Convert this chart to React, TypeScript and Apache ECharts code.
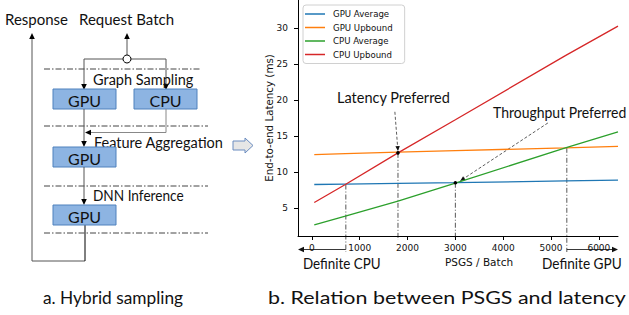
import React, { useEffect, useRef } from "react";
import * as echarts from "echarts";

const seriesNames = ["GPU Average", "GPU Upbound", "CPU Average", "CPU Upbound"];
const psgsPoints = [50, 700, 1800, 3000, 5300, 6400];
const gpuAverage = [8.3, 8.35, 8.45, 8.55, 8.8, 8.9];
const gpuUpbound = [12.45, 12.6, 12.8, 13.0, 13.4, 13.6];
const cpuAverage = [2.7, 3.9, 6.0, 8.5, 13.4, 15.6];
const cpuUpbound = [5.8, 8.3, 12.7, 17.3, 26.2, 30.3];
const xTicks = [0, 1000, 2000, 3000, 4000, 5000, 6000];
const yTicks = [5, 10, 15, 20, 25, 30];
const colors = ["#1f77b4", "#ff7f0e", "#2ca02c", "#d62728"];

// crossover points (PSGS, latency)
const crossX = [710, 1800, 3000, 5330];
const crossY = [8.3, 12.7, 8.55, 13.4];

const CAL = "Lato, 'Open Sans', sans-serif";
const DJ = "'DejaVu Sans', sans-serif";

function arrowHead(x1: number, y1: number, x2: number, y2: number, len = 6, half = 2.8, color = "#000") {
  const dx = x2 - x1, dy = y2 - y1;
  const d = Math.sqrt(dx * dx + dy * dy) || 1;
  const ux = dx / d, uy = dy / d;
  const bx = x2 - ux * len, by = y2 - uy * len;
  return {
    type: "polygon",
    shape: { points: [[x2, y2], [bx - uy * half, by + ux * half], [bx + uy * half, by - ux * half]] },
    style: { fill: color },
    silent: true,
  };
}

function seg(x1: number, y1: number, x2: number, y2: number, stroke = "#666", lineWidth = 1, lineDash?: number[]) {
  return {
    type: "line",
    shape: { x1, y1, x2, y2 },
    style: { stroke, lineWidth, lineDash },
    silent: true,
  };
}

function txt(text: string, x: number, y: number, fontSize: number, align = "left", font = CAL, scaleX = 1) {
  return {
    type: "text",
    x, y,
    scaleX,
    style: { text, fill: "#111", fontSize, fontFamily: font, align, verticalAlign: "middle" },
    silent: true,
  };
}

function box(label: string, x: number, y: number, w: number, h: number) {
  return [
    { type: "rect", shape: { x, y, width: w, height: h }, style: { fill: "#8DB4E2", stroke: "#4F81BD", lineWidth: 1 }, silent: true },
    txt(label, x + w / 2, y + h / 2 + 1, 16, "center"),
  ];
}

function leftDiagram() {
  const dd = [6, 2, 1.5, 2];
  const els: any[] = [];
  els.push(txt("Response", 5, 19, 15));
  els.push(txt("Request Batch", 79, 19, 15));
  // response arrow
  els.push(seg(32, 261, 32, 37, "#555"));
  els.push(arrowHead(32, 60, 32, 33));
  els.push(seg(32, 261, 85, 261, "#555"));
  els.push(seg(85, 224, 85, 261, "#000"));
  // request arrow
  els.push(seg(127, 55, 127, 37, "#555"));
  els.push(arrowHead(127, 60, 127, 33));
  els.push(seg(84, 59, 166, 59, "#555"));
  els.push({ type: "circle", shape: { cx: 127, cy: 59, r: 4 }, style: { fill: "#fff", stroke: "#000", lineWidth: 1 }, silent: true });
  els.push(seg(84, 59, 84, 86, "#555"));
  els.push(arrowHead(84, 70, 84, 90));
  els.push(seg(166, 59, 166, 86, "#555"));
  els.push(arrowHead(166, 70, 166, 90));
  // dash-dot separators
  els.push(seg(44, 69, 200, 69, "#444", 1, dd));
  els.push(seg(44, 126, 208, 126, "#444", 1, dd));
  els.push(seg(44, 186, 208, 186, "#444", 1, dd));
  els.push(seg(44, 233, 208, 233, "#444", 1, dd));
  els.push(txt("Graph Sampling", 93, 79, 14.5));
  els.push(...box("GPU", 53, 89, 63, 20));
  els.push(...box("CPU", 134, 89, 63, 20));
  // gpu -> gpu2
  els.push(seg(84, 109, 84, 143, "#555"));
  els.push(arrowHead(84, 130, 84, 147));
  // cpu -> merge
  els.push(seg(166, 109, 166, 132.5, "#888"));
  els.push(seg(166, 132.5, 89, 132.5, "#888"));
  els.push(arrowHead(100, 132.5, 85, 132.5));
  els.push(txt("Feature Aggregation", 94, 142, 14.5));
  els.push(...box("GPU", 53, 147, 63, 20));
  els.push(seg(84, 167, 84, 201, "#555"));
  els.push(arrowHead(84, 190, 84, 205));
  els.push(txt("DNN Inference", 93, 195, 14.5, "left", CAL, 0.94));
  els.push(...box("GPU", 53, 205, 63, 20));
  // block arrow
  els.push({
    type: "polygon",
    shape: { points: [[233, 141], [245, 141], [245, 138], [253, 145.5], [245, 153], [245, 150], [233, 150]] },
    style: { fill: "#E6E6E6", stroke: "#6A8CC0", lineWidth: 1 },
    silent: true,
  });
  els.push(txt("a. Hybrid sampling", 43, 297, 17.3));
  els.push(txt("b. Relation between PSGS and latency", 268, 297, 17.3, "left", CAL, 1.24));
  return els;
}

export default function App() {
  const ref = useRef<HTMLDivElement>(null);
  useEffect(() => {
    if (!ref.current) return;
    const chart = echarts.init(ref.current, undefined, { renderer: "svg" });
    const all = [gpuAverage, gpuUpbound, cpuAverage, cpuUpbound];
    chart.setOption({
      animation: false,
      color: colors,
      grid: { left: 298, right: 11, top: 0, bottom: 79, containLabel: false },
      legend: {
        orient: "vertical",
        left: 303,
        top: 5,
        data: seriesNames,
        icon: "rect",
        itemWidth: 20,
        itemHeight: 1.5,
        itemGap: 2.5,
        padding: [3.5, 12, 3.5, 2],
        backgroundColor: "rgba(255,255,255,0.85)",
        borderColor: "#d0d0d0",
        borderWidth: 1,
        borderRadius: 3,
        textStyle: { fontFamily: DJ, fontSize: 8.6, color: "#111", lineHeight: 11, padding: [0, 0, 0, 3] },
      },
      xAxis: {
        type: "value",
        min: -290,
        max: 6400,
        axisLine: { show: true, onZero: false, lineStyle: { color: "#000", width: 1 } },
        axisTick: { show: true, length: 4, customValues: xTicks, lineStyle: { color: "#000" } },
        axisLabel: {
          customValues: xTicks,
          formatter: (v: number) => String(v),
          fontFamily: DJ, fontSize: 9, color: "#111", margin: 7,
        },
        splitLine: { show: false },
      },
      yAxis: {
        type: "value",
        min: 1.15,
        max: 33.93,
        name: "End-to-end Latency (ms)",
        nameLocation: "middle",
        nameGap: 24,
        nameMoveOverlap: false,
        nameTextStyle: { fontFamily: DJ, fontSize: 10.3, color: "#111" },
        axisLine: { show: true, onZero: false, lineStyle: { color: "#000", width: 1 } },
        axisTick: { show: true, length: 4, customValues: yTicks, lineStyle: { color: "#000" } },
        axisLabel: { customValues: yTicks, formatter: (v: number) => String(v), fontFamily: DJ, fontSize: 9, color: "#111", margin: 10 },
        splitLine: { show: false },
      },
      series: seriesNames.map((n, i) => ({
        type: "line",
        name: n,
        data: psgsPoints.map((x, j) => [x, all[i][j]]),
        symbol: "none",
        showSymbol: false,
        lineStyle: { width: 1.3, color: colors[i] },
        z: 2,
      })),
    });

    const px = (p: number[]) => chart.convertToPixel({ gridIndex: 0 }, p) as number[];
    const els: any[] = leftDiagram();
    const dd = [5, 2, 1, 2];
    const bottoms = [252, 240, 240, 252];
    crossX.forEach((x, i) => {
      const p = px([x, crossY[i]]);
      els.push(seg(p[0], p[1], p[0], bottoms[i], "#444", 0.9, dd));
    });
    // range arrows
    const arrowY = 249.5;
    const l0 = px([-290, 5])[0];
    const l1 = px([crossX[0], 5])[0];
    const r0 = px([crossX[3], 5])[0];
    const r1 = px([6400, 5])[0];
    els.push(seg(l0 + 4, arrowY, l1, arrowY, "#222", 0.9));
    els.push(arrowHead(l1, arrowY, l0, arrowY, 6, 2.8, "#111"));
    els.push(seg(r0, arrowY, r1 - 4, arrowY, "#222", 0.9));
    els.push(arrowHead(r0, arrowY, r1, arrowY, 6, 2.8, "#111"));
    // latency preferred arrow
    const la0 = px([1735, 18.4]);
    const la1 = px([1800, 12.95]);
    els.push(seg(la0[0], la0[1], la1[0], la1[1], "#333", 0.8, [3, 2]));
    els.push(arrowHead(la0[0], la0[1], la1[0], la1[1], 5, 2.2, "#111"));
    // throughput preferred arrow
    const ta0 = px([4934, 16.85]);
    const ta1 = px([3100, 8.8]);
    els.push(seg(ta0[0], ta0[1], ta1[0], ta1[1], "#333", 0.8, [3, 2]));
    els.push(arrowHead(ta0[0], ta0[1], ta1[0], ta1[1], 5, 2.2, "#111"));
    [[1800, 12.7], [3000, 8.55]].forEach((p) => {
      const q = px(p);
      els.push({ type: "circle", shape: { cx: q[0], cy: q[1], r: 1.8 }, style: { fill: "#000" }, silent: true, z: 10 });
    });
    els.push(txt("Latency Preferred", 337, 97, 14.5));
    els.push(txt("Throughput Preferred", 493, 112, 14.5, "left", CAL, 0.965));
    els.push(txt("Definite CPU", 303, 263, 15.5, "left", CAL, 0.865));
    els.push(txt("Definite GPU", 542, 263, 15.5, "left", CAL, 0.88));
    els.push(txt("PSGS / Batch", 479, 261.5, 10.5, "center", DJ));
    chart.setOption({ graphic: { elements: els } });
    return () => chart.dispose();
  }, []);
  return <div ref={ref} style={{ position: "fixed", left: 0, top: 0, width: 629, height: 315, background: "#fff" }} />;
}
